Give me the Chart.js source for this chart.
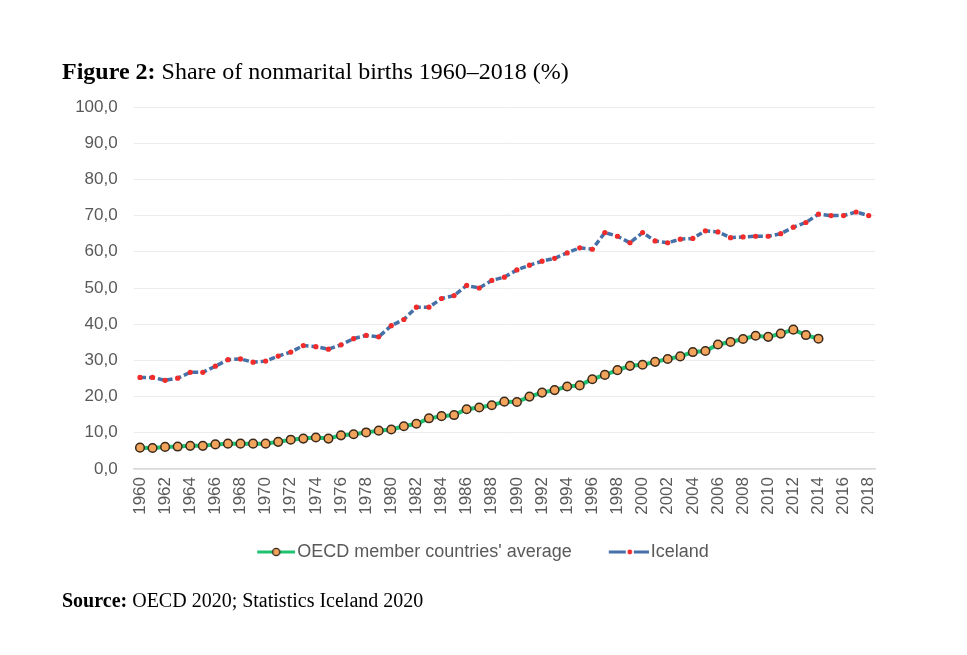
<!DOCTYPE html>
<html><head><meta charset="utf-8">
<script src="https://cdn.jsdelivr.net/npm/chart.js@4.4.1/dist/chart.umd.min.js"></script>
<style>
html,body{margin:0;padding:0;background:#fff;}
#wrap{position:relative;width:967px;height:655px;overflow:hidden;background:#fff;}
#title{position:absolute;left:62px;top:58px;font-family:"Liberation Serif","Times New Roman",serif;font-size:24px;color:#000;white-space:nowrap;}
#source{position:absolute;left:62px;top:589px;font-family:"Liberation Serif","Times New Roman",serif;font-size:20px;color:#000;white-space:nowrap;}
canvas{position:absolute;left:0;top:0;}
</style></head><body>
<div id="wrap">
<canvas id="c" width="967" height="655"></canvas>
<div id="title"><b>Figure 2:</b> Share of nonmarital births 1960–2018 (%)</div>
<div id="source"><b>Source:</b> OECD 2020; Statistics Iceland 2020</div>
</div>
<script>
const years = ['1960','1961','1962','1963','1964','1965','1966','1967','1968','1969',
  '1970','1971','1972','1973','1974','1975','1976','1977','1978','1979',
  '1980','1981','1982','1983','1984','1985','1986','1987','1988','1989',
  '1990','1991','1992','1993','1994','1995','1996','1997','1998','1999',
  '2000','2001','2002','2003','2004','2005','2006','2007','2008','2009',
  '2010','2011','2012','2013','2014','2015','2016','2017','2018'];
const oecdAverage = [5.9,5.8,6.1,6.2,6.4,6.4,6.8,7.0,7.0,7.0,
  7.0,7.5,8.1,8.4,8.7,8.4,9.3,9.6,10.1,10.6,
  10.9,11.8,12.5,14.0,14.6,14.9,16.5,17.0,17.6,18.6,
  18.5,20.0,21.1,21.8,22.8,23.1,24.8,26.0,27.3,28.5,
  28.8,29.6,30.4,31.1,32.3,32.6,34.4,35.1,35.9,36.8,
  36.5,37.4,38.5,37.0,36.0];
const iceland = [25.3,25.3,24.5,25.1,26.7,26.7,28.4,30.2,30.4,29.5,
  29.8,31.2,32.3,34.1,33.8,33.1,34.3,36.0,36.9,36.5,
  39.6,41.3,44.7,44.7,47.1,47.9,50.7,50.0,52.1,53.0,
  55.0,56.3,57.4,58.2,59.7,61.1,60.7,65.3,64.3,62.5,
  65.3,63.0,62.5,63.5,63.7,65.8,65.5,63.9,64.1,64.3,
  64.3,65.0,66.8,68.1,70.4,70.0,70.0,71.0,70.0];
const seriesNames = ["OECD member countries' average", 'Iceland'];
const yMin = 0, yMax = 100, yStep = 10;

const GREEN = '#1ec270', ORANGE = '#f2a35c', DARK = '#3a2a1c', BLUE = '#4570a8', RED = '#f22b2b';

function legendImg(kind) {
  const c = document.createElement('canvas');
  c.width = 52; c.height = 14;
  const g = c.getContext('2d');
  g.lineWidth = 3;
  if (kind === 0) {
    g.strokeStyle = GREEN;
    g.beginPath(); g.moveTo(14, 7); g.lineTo(52, 7); g.stroke();
    g.beginPath(); g.arc(33, 7, 3.6, 0, Math.PI * 2);
    g.fillStyle = ORANGE; g.fill(); g.lineWidth = 1.4; g.strokeStyle = DARK; g.stroke();
  } else {
    g.strokeStyle = BLUE;
    g.beginPath(); g.moveTo(12, 7); g.lineTo(29, 7); g.moveTo(37, 7); g.lineTo(52, 7); g.stroke();
    g.beginPath(); g.arc(33, 7, 2.4, 0, Math.PI * 2);
    g.fillStyle = RED; g.fill();
  }
  return c;
}
const legendImgs = [legendImg(0), legendImg(1)];

const shiftLegend = {
  id: 'shiftLegend',
  afterLayout(chart) {
    const l = chart.legend;
    if (!l) return;
    l.left += 42; l.right += 42; l.top -= 24; l.bottom -= 24;
  }
};

new Chart(document.getElementById('c'), {
  type: 'line',
  data: {
    labels: years,
    datasets: [
      {
        label: seriesNames[0], data: oecdAverage,
        borderColor: GREEN, borderWidth: 4, tension: 0,
        pointRadius: 4.3, pointBackgroundColor: ORANGE, pointBorderColor: DARK, pointBorderWidth: 1.5,
        fill: false
      },
      {
        label: seriesNames[1], data: iceland,
        borderColor: BLUE, borderWidth: 3.5, borderDash: [6, 3], tension: 0,
        pointRadius: 2.6, pointBackgroundColor: RED, pointBorderWidth: 0, pointBorderColor: RED,
        fill: false
      }
    ]
  },
  plugins: [shiftLegend],
  options: {
    responsive: false, animation: false, devicePixelRatio: 1,
    layout: { padding: { left: 0, right: 92, top: 107, bottom: 60 } },
    plugins: {
      tooltip: { enabled: false },
      title: { display: false },
      legend: {
        position: 'bottom',
        labels: {
          usePointStyle: true, pointStyleWidth: 38, padding: 32,
          color: '#595959',
          font: { family: '"Liberation Sans", Arial, sans-serif', size: 18 },
          generateLabels: (chart) => {
            const items = Chart.defaults.plugins.legend.labels.generateLabels(chart);
            items.forEach((it, i) => { it.pointStyle = legendImgs[i]; });
            return items;
          }
        }
      }
    },
    scales: {
      x: {
        offset: true,
        grid: { display: false, drawTicks: false },
        border: { display: true, color: '#d9d9d9', width: 1.5 },
        afterFit: (s) => { s.height = 66; },
        ticks: {
          autoSkip: false, maxRotation: 90, minRotation: 90, padding: 8,
          color: '#595959',
          font: { family: '"Liberation Sans", Arial, sans-serif', size: 17 },
          callback: function (v, i) { return i % 2 === 0 ? this.getLabelForValue(v) : ''; }
        }
      },
      y: {
        min: yMin, max: yMax,
        grid: { color: '#ececec', lineWidth: 1, drawTicks: false },
        border: { display: false },
        afterFit: (s) => { s.width = 133.7; },
        ticks: {
          stepSize: yStep, padding: 16, color: '#595959',
          font: { family: '"Liberation Sans", Arial, sans-serif', size: 17 },
          callback: (v) => v.toFixed(1).replace('.', ',')
        }
      }
    }
  }
});
</script>
</body></html>
